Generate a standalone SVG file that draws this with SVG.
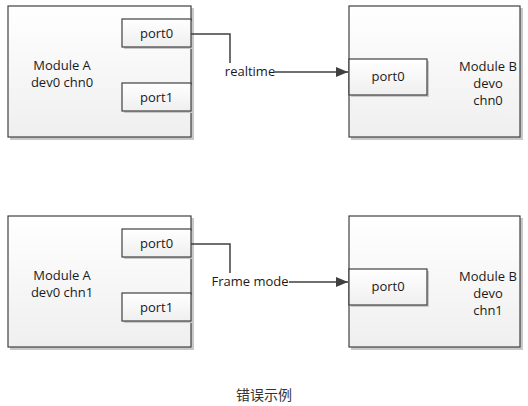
<svg xmlns="http://www.w3.org/2000/svg" width="528" height="406" viewBox="0 0 528 406">
<style>
.box{fill:url(#g);stroke:#404040;stroke-width:1.2}
.sh{fill:#c8c8c8}
.t{font-family:"Open Sans","Liberation Sans",sans-serif;font-size:13px;fill:#1a1a1a;text-anchor:middle}
.c{fill:none;stroke:#404040;stroke-width:1.5}
.cap{font-family:"Noto Sans CJK SC",sans-serif;font-size:14px;fill:#333;text-anchor:middle}
</style>
<defs>
<linearGradient id="g" x1="0" y1="0" x2="0" y2="1"><stop offset="0" stop-color="#ffffff"/><stop offset="1" stop-color="#efefef"/></linearGradient>
<marker id="ah" markerWidth="12" markerHeight="10" refX="12" refY="5" orient="auto" markerUnits="userSpaceOnUse"><path d="M0,0 L12,5 L0,10 Z" fill="#404040"/></marker>
</defs>
<g id="moduleA0">
<rect class="sh" x="10" y="8" width="184" height="132"/>
<rect class="box" x="8" y="6" width="183" height="131"/>
<text class="t" x="62" y="70">Module A</text>
<text class="t" x="62" y="87">dev0 chn0</text>
</g>
<g id="portA0_0"><rect class="sh" x="124" y="21" width="69" height="28"/><rect class="box" x="122" y="19" width="69" height="28"/><text class="t" x="156.5" y="38">port0</text></g>
<g id="portA0_1"><rect class="sh" x="124" y="85" width="69" height="28"/><rect class="box" x="122" y="83" width="69" height="28"/><text class="t" x="156.5" y="102">port1</text></g>
<g id="moduleB0">
<rect class="sh" x="351" y="8" width="172" height="132"/>
<rect class="box" x="349" y="6" width="171" height="131"/>
<text class="t" x="488" y="71">Module B</text>
<text class="t" x="488" y="88">devo</text>
<text class="t" x="488" y="105">chn0</text>
</g>
<g id="portB0"><rect class="sh" x="351" y="61" width="78" height="36"/><rect class="box" x="349" y="59" width="78" height="36"/><text class="t" x="388" y="81">port0</text></g>

<g id="moduleA1">
<rect class="sh" x="10" y="218" width="184" height="132"/>
<rect class="box" x="8" y="216" width="183" height="131"/>
<text class="t" x="62" y="280">Module A</text>
<text class="t" x="62" y="297">dev0 chn1</text>
</g>
<g id="portA1_0"><rect class="sh" x="124" y="231" width="69" height="28"/><rect class="box" x="122" y="229" width="69" height="28"/><text class="t" x="156.5" y="248">port0</text></g>
<g id="portA1_1"><rect class="sh" x="124" y="295" width="69" height="28"/><rect class="box" x="122" y="293" width="69" height="28"/><text class="t" x="156.5" y="312">port1</text></g>
<g id="moduleB1">
<rect class="sh" x="351" y="218" width="172" height="132"/>
<rect class="box" x="349" y="216" width="171" height="131"/>
<text class="t" x="488" y="281">Module B</text>
<text class="t" x="488" y="298">devo</text>
<text class="t" x="488" y="315">chn1</text>
</g>
<g id="portB1"><rect class="sh" x="351" y="271" width="78" height="36"/><rect class="box" x="349" y="269" width="78" height="36"/><text class="t" x="388" y="291">port0</text></g>

<g id="connectors">
<path class="c" d="M191,34 H230 V63"/>
<path class="c" d="M275,72 H348" marker-end="url(#ah)"/>
<text class="t" x="250" y="76">realtime</text>
<path class="c" d="M191,244 H230 V273"/>
<path class="c" d="M289,282 H348" marker-end="url(#ah)"/>
<text class="t" x="250" y="286">Frame mode</text>
</g>
<text class="cap" x="264" y="400">错误示例</text>
</svg>
